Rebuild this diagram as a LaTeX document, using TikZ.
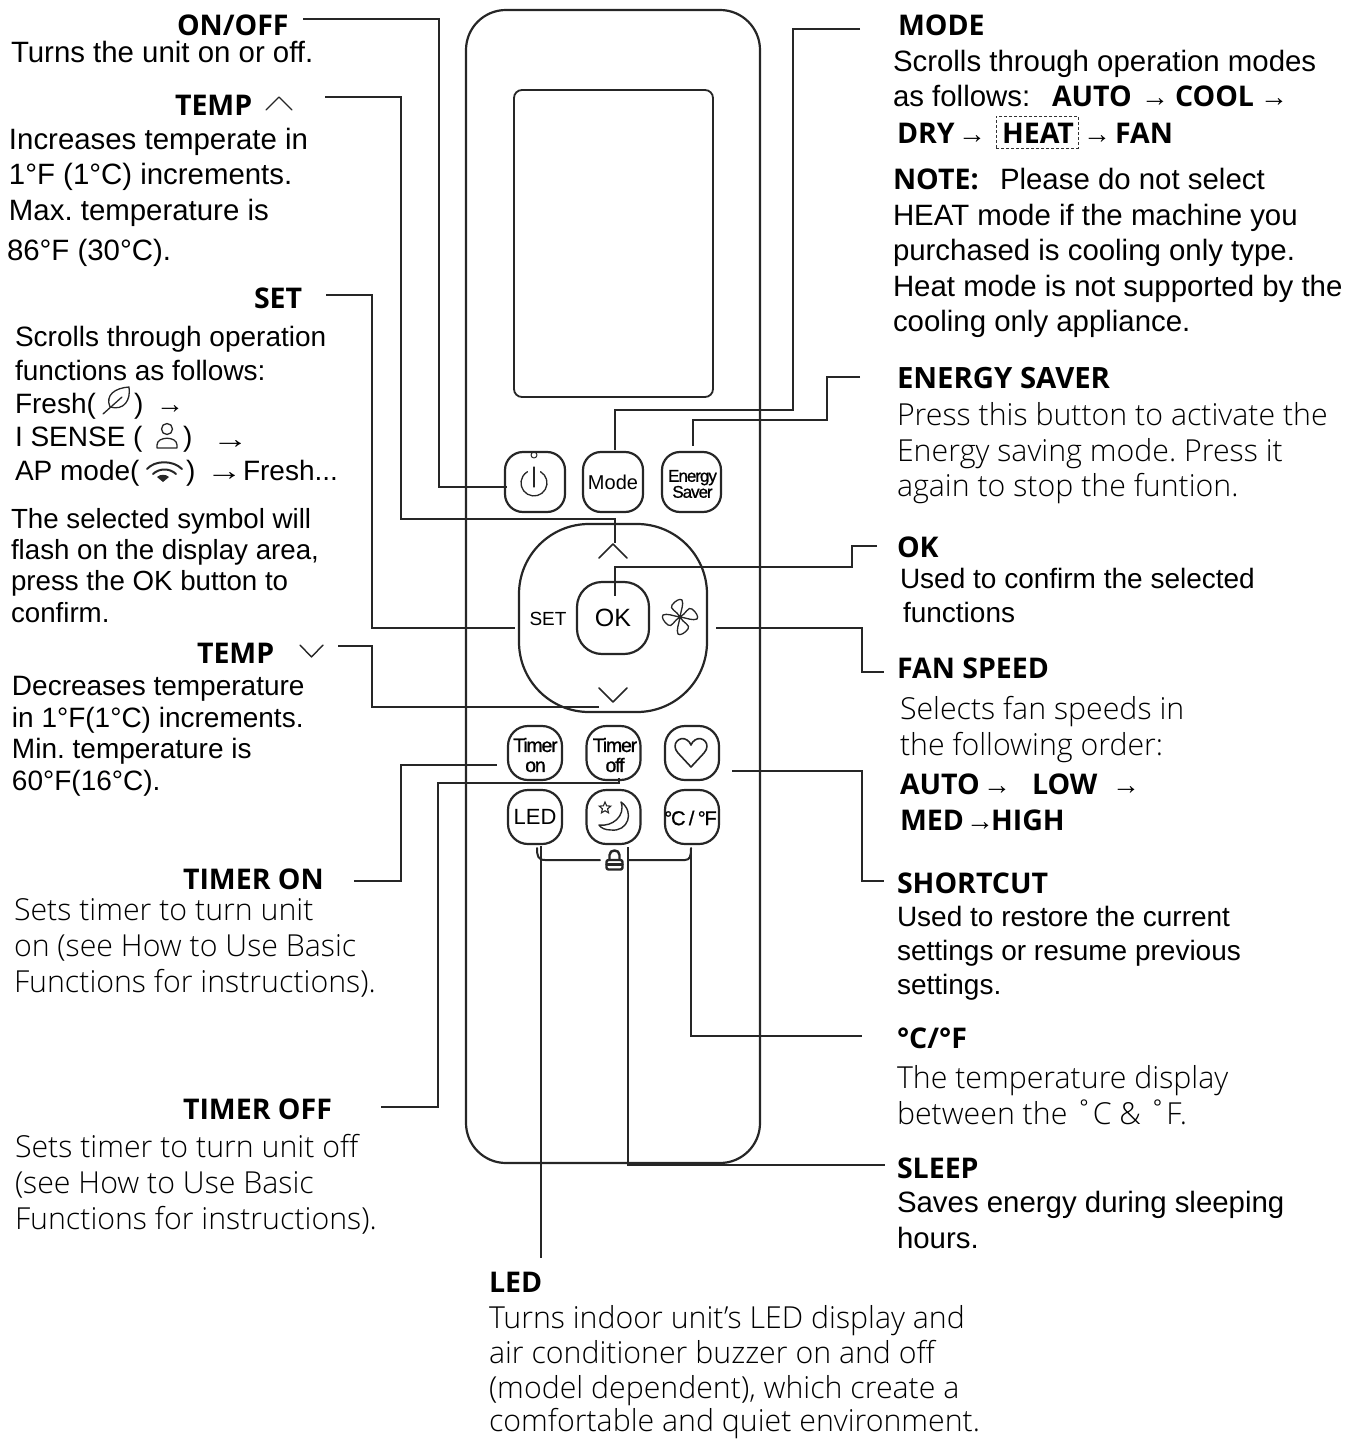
\documentclass[tikz,border=0pt]{standalone}
\usepackage{fontspec}
\usetikzlibrary{shapes.geometric}
\setmainfont{Liberation Sans}
\frenchspacing
\newfontfamily\arf{Liberation Sans}
\newfontfamily\arbt[FakeBold=0.9,LetterSpace=-6]{Liberation Sans}
\newfontfamily\opf{Open Sans}
\newfontfamily\ltf{Open Sans Light}
\newcommand\fA{\arf\fontsize{29.4}{29}\selectfont}
\newcommand\fC{\arf\fontsize{28}{28}\selectfont}
\newcommand\fD{\arf\fontsize{27.7}{28}\selectfont}
\newcommand\fB{\opf\bfseries\fontsize{28.5}{28}\selectfont}
\newcommand\fE{\opf\bfseries\fontsize{29.3}{28}\selectfont}
\newcommand\fL{\ltf\fontsize{30.3}{30}\selectfont}
\newcommand\fR{\arf\fontsize{28}{28}\selectfont}
\newcounter{tn}
\newcommand\lbl[4]{\stepcounter{tn}\node[txt] (t\arabic{tn}) at (#1,#2) {#3#4};}
\tikzset{
  txt/.style={anchor=base west,inner sep=0pt,outer sep=0pt,text=black,yshift=-1pt},
  leader/.style={draw=black!85,line width=1.7pt},
  shell/.style={draw=black!85,line width=2.2pt,inner sep=0pt,outer sep=0pt},
  btn/.style={shell,align=center,font=\arf},
  btxt/.style={inner sep=0pt,align=center},
  icon/.style={draw=black!85,line width=1.6pt,line cap=round,line join=round},
}
\begin{document}
\begin{tikzpicture}[x=1pt,y=-1pt]
\useasboundingbox (0,0) rectangle (1346,1439);
% remote
\node[shell,rounded corners=40pt,minimum width=294pt,minimum height=1153pt] (body) at (613,586.5) {};
\node[shell,line width=1.8pt,rounded corners=8pt,minimum width=199pt,minimum height=307pt] (screen) at (613.5,243.5) {};
\node[btn,rounded corners=18pt,minimum width=60pt,minimum height=60pt] (bpower) at (535,482) {};
\node[btn,rounded corners=18pt,minimum width=60pt,minimum height=60pt,font=\arf\fontsize{20}{20}\selectfont] (bmode) at (613,482) {Mode};
\node[btn,rounded corners=18pt,minimum width=59pt,minimum height=60pt] (benergy) at (691.5,482) {};
\node[btxt,font=\arbt\fontsize{17}{16}\selectfont] (benergyT) at (692.5,484) {Energy\\Saver};
\node[shell,rounded corners=70pt,minimum width=188pt,minimum height=188pt] (dpad) at (613,618) {};
\node[btn,rounded corners=25pt,minimum width=72pt,minimum height=72pt,font=\arf\fontsize{25}{25}\selectfont] (bok) at (613,618) {OK};
\node[inner sep=0pt,font=\arf\fontsize{19}{19}\selectfont] (bset) at (548,618.5) {SET};
\node[btn,rounded corners=20pt,minimum width=54pt,minimum height=54pt] (bton) at (535,753) {};
\node[btxt,font=\arbt\fontsize{19.5}{20}\selectfont] (btonT) at (535.5,755) {Timer\\on};
\node[btn,rounded corners=20pt,minimum width=54pt,minimum height=54pt] (btoff) at (613.5,753) {};
\node[btxt,font=\arbt\fontsize{19.5}{20}\selectfont] (btoffT) at (615,755) {Timer\\off};
\node[btn,rounded corners=20pt,minimum width=54pt,minimum height=54pt] (bheart) at (692,753) {};
\node[btn,rounded corners=20pt,minimum width=54pt,minimum height=54pt,font=\arf\fontsize{22}{22}\selectfont] (bled) at (535,817) {LED};
\node[btn,rounded corners=20pt,minimum width=54pt,minimum height=54pt] (bsleep) at (613.5,817) {};
\node[btn,rounded corners=20pt,minimum width=54pt,minimum height=54pt] (bcf) at (692,817) {};
\node[btxt,font=\arbt\fontsize{20}{20}\selectfont] (bcfT) at (690.5,818) {°C\,/\,°F};
% chevrons
\draw[icon] (599,558) -- (613,544) -- (627,558);
\draw[icon] (599,688) -- (613,702) -- (627,688);
\draw[icon,line width=1.4pt] (266,110) -- (279,97) -- (292,110);
\draw[icon,line width=1.4pt] (300,645) -- (311.5,657) -- (323,645);
% power icon
\draw[icon,line width=1.3pt] (540.5,471.7) arc[start angle=-60,end angle=240,radius=13];
\draw[icon,line width=1.3pt] (534,467) -- (534,487);
\draw[icon,line width=1pt] (534,455) circle[radius=3];
% fan icon
\foreach \a in {0,90,180,270}{
\draw[icon,line width=1.3pt,rotate around={\a:(680,617)}] (680,617) .. controls (677,611) and (669,609) .. (672,605) .. controls (675,601) and (680,598) .. (682,600) .. controls (684,604) and (681,610) .. (680,617);
}
% heart
\draw[icon] (691,767) -- (678,753) .. controls (670,744) and (680,735) .. (687,740) .. controls (689,741) and (690,743) .. (691,745) .. controls (692,743) and (693,741) .. (695,740) .. controls (702,735) and (712,744) .. (704,753) -- cycle;
% moon and star
\draw[icon,line width=1.4pt] (621,802) .. controls (635,812) and (628,832) .. (611,830) .. controls (605,830) and (601,828) .. (599,825) .. controls (612,827) and (626,816) .. (621,802) -- cycle;
\node[star,star points=5,star point ratio=2.2,draw=black!85,line width=1.1pt,inner sep=0pt,minimum size=12pt] (bstar) at (605,808) {};
% lock
\draw[icon,line width=2.4pt,rounded corners=2pt] (606.5,860) rectangle (622.5,869.5);
\draw[icon,line width=2.4pt] (609.5,860) -- (609.5,855) .. controls (609.5,849) and (619.5,849) .. (619.5,855) -- (619.5,860);
\draw[icon,line width=2.4pt] (606.5,864.5) -- (622.5,864.5);
% lock bracket
\draw[icon,line width=2pt] (537,848) .. controls (537,856) and (538,860) .. (545,860) -- (600,860);
\draw[icon,line width=2pt] (629,860) -- (685,860) .. controls (690,860) and (691,856) .. (691,848);
% leaders
\coordinate (cOnoff) at (303,19);   \coordinate (ePower) at (507,487);
\coordinate (cTup) at (325,97);     \coordinate (eUp) at (615,543);
\coordinate (cSet) at (326,295);    \coordinate (eSet) at (515,628);
\coordinate (cTdn) at (338,646);    \coordinate (eDn) at (599,707);
\coordinate (cTon) at (354,881);    \coordinate (eTon) at (497,765);
\coordinate (cToff) at (381,1107);  \coordinate (eToff) at (619,778);
\coordinate (cMode) at (860,29);    \coordinate (eMode) at (615,450);
\coordinate (cEn) at (860,377);     \coordinate (eEn) at (693,446);
\coordinate (cOk) at (877,546);     \coordinate (eOk) at (615,596);
\coordinate (cFan) at (884,672);    \coordinate (eFan) at (716,628);
\coordinate (cSh) at (884,881);     \coordinate (eSh) at (732,771);
\coordinate (cCf) at (862,1036);    \coordinate (eCf) at (691,848);
\coordinate (cSl) at (885,1165);    \coordinate (eSl) at (628,847);
\coordinate (cLed) at (541,1258);   \coordinate (eLed) at (541,846);
\draw[leader] (cOnoff) -- (439,19) -- (439,487) -- (ePower);
\draw[leader] (cTup) -- (401,97) -- (401,519) -- (615,519) -- (eUp);
\draw[leader] (cSet) -- (372,295) -- (372,628) -- (eSet);
\draw[leader] (cTdn) -- (372,646) -- (372,707) -- (eDn);
\draw[leader] (cTon) -- (401,881) -- (401,765) -- (eTon);
\draw[leader] (cToff) -- (438,1107) -- (438,783) -- (619,783) -- (eToff);
\draw[leader] (cMode) -- (793,29) -- (793,410) -- (615,410) -- (eMode);
\draw[leader] (cEn) -- (827,377) -- (827,420) -- (693,420) -- (eEn);
\draw[leader] (cOk) -- (852,546) -- (852,567) -- (615,567) -- (eOk);
\draw[leader] (eFan) -- (862,628) -- (862,672) -- (cFan);
\draw[leader] (eSh) -- (862,771) -- (862,881) -- (cSh);
\draw[leader] (eCf) -- (691,1036) -- (cCf);
\draw[leader] (eSl) -- (628,1165) -- (cSl);
\draw[leader] (eLed) -- (cLed);
% left column
\node[txt,text depth=0pt] (tOnoff) at (177,35) {\fB ON/OFF};
\lbl{11}{62}{\fA}{Turns the unit on or off.}
\lbl{175}{115}{\fB}{TEMP}
\lbl{9}{149}{\fA}{Increases temperate in}
\lbl{9}{184}{\fA}{1°F (1°C) increments.}
\lbl{9}{220}{\fA}{Max. temperature is}
\lbl{7}{259}{\fA}{86°F (30°C).}
\lbl{254}{307}{\fB}{SET}
\lbl{15}{345}{\fC}{Scrolls through operation}
\lbl{15}{379}{\fC}{functions as follows:}
\lbl{15}{412}{\fC}{Fresh(}
\lbl{134}{412}{\fC}{)}
\lbl{156}{412}{\fR}{→}
\lbl{15}{445}{\fC}{I SENSE (}
\lbl{183}{445}{\fC}{)}
\lbl{212}{447}{\fR}{\scalebox{1.3}[1]{→}}
\lbl{15}{479}{\fC}{AP mode(}
\lbl{186}{479}{\fC}{)}
\lbl{206}{479}{\fR}{\scalebox{1.3}[1]{→}}
\lbl{243}{479}{\fC}{Fresh...}
\lbl{11}{527}{\fD}{The selected symbol will}
\lbl{11}{558}{\fD}{flash on the display area,}
\lbl{11}{589}{\fD}{press the OK button to}
\lbl{11}{621}{\fD}{confirm.}
\lbl{197}{662}{\fB}{TEMP}
\lbl{12}{694}{\fC}{Decreases temperature}
\lbl{12}{726}{\fC}{in 1°F(1°C) increments.}
\lbl{12}{757}{\fC}{Min. temperature is}
\lbl{12}{789}{\fC}{60°F(16°C).}
\lbl{183}{888}{\fB}{TIMER ON}
\lbl{14}{919}{\fL}{Sets timer to turn unit}
\lbl{14}{955}{\fL}{on (see How to Use Basic}
\lbl{14}{991}{\fL}{Functions for instructions).}
\lbl{183}{1118}{\fB}{TIMER OFF}
\lbl{15}{1156}{\fL}{Sets timer to turn unit off}
\lbl{15}{1192}{\fL}{(see How to Use Basic}
\lbl{15}{1228}{\fL}{Functions for instructions).}
% inline icons
\draw[icon,line width=1.3pt] (103,414) -- (122,397);
\draw[icon,line width=1.3pt] (110,407) .. controls (105,395) and (115,388) .. (129,387) .. controls (131,400) and (124,411) .. (110,407) -- cycle;
\draw[icon,line width=1.3pt] (167,429) circle[radius=5.5];
\draw[icon,line width=1.3pt] (157,448) -- (157,445) .. controls (157,436) and (177,436) .. (177,445) -- (177,448) -- cycle;
\draw[icon,line width=2pt] (147,469) .. controls (155,460) and (173,460) .. (182,469);
\draw[icon,line width=2pt] (153,474) .. controls (159,468) and (170,468) .. (176,474);
\fill[black!85] (157,477) .. controls (160,474) and (166,474) .. (169,477) -- (163,482) -- cycle;
% right column
\lbl{898}{35}{\fB}{MODE}
\lbl{893}{71}{\fA}{Scrolls through operation modes}
\lbl{893}{106}{\fA}{as follows:}
\lbl{1052}{106}{\fB}{AUTO}
\lbl{1141}{106}{\fR}{→}
\lbl{1175}{106}{\fB}{COOL}
\lbl{1260}{106}{\fR}{→}
\lbl{897}{143}{\fB}{DRY}
\lbl{958}{143}{\fR}{→}
\node[txt,draw=black!80,densely dashed,line width=0.8pt,anchor=center,minimum width=82pt,minimum height=32pt] (heatbox) at (1037,131) {};
\lbl{1002}{143}{\fB}{HEAT}
\lbl{1083}{143}{\fR}{→}
\lbl{1115}{143}{\fB}{FAN}
\lbl{893}{189}{\fB}{NOTE:}
\lbl{1000}{189}{\fA}{Please do not select}
\lbl{893}{225}{\fA}{HEAT mode if the machine you}
\lbl{893}{260}{\fA}{purchased is cooling only type.}
\lbl{893}{295}{\fA}{Heat mode is not supported by the}
\lbl{893}{330}{\fA}{cooling only appliance.}
\lbl{897}{387}{\fE}{ENERGY SAVER}
\lbl{897}{424}{\fL}{Press this button to activate the}
\lbl{897}{460}{\fL}{Energy saving mode. Press it}
\lbl{897}{495}{\fL}{again to stop the funtion.}
\lbl{897}{556}{\fB}{OK}
\lbl{900}{587}{\fC}{Used to confirm the selected}
\lbl{903}{621}{\fC}{functions}
\lbl{897}{677}{\fB}{FAN SPEED}
\lbl{900}{718}{\fL}{Selects fan speeds in}
\lbl{900}{754}{\fL}{the following order:}
\lbl{900}{793}{\fB}{AUTO}
\lbl{983}{793}{\fR}{→}
\lbl{1032}{793}{\fB}{LOW}
\lbl{1112}{793}{\fR}{→}
\lbl{900}{829}{\fB}{MED}
\lbl{966}{829}{\fR}{→}
\lbl{991}{829}{\fB}{HIGH}
\lbl{897}{892}{\fB}{SHORTCUT}
\lbl{897}{925}{\fC}{Used to restore the current}
\lbl{897}{959}{\fC}{settings or resume previous}
\lbl{897}{993}{\fC}{settings.}
\lbl{897}{1047}{\fB}{°C/°F}
\lbl{897}{1087}{\fL}{The temperature display}
\lbl{897}{1123}{\fL}{between the ˚C \& ˚F.}
\lbl{897}{1177}{\fB}{SLEEP}
\lbl{897}{1211}{\fA}{Saves energy during sleeping}
\lbl{897}{1247}{\fA}{hours.}
\lbl{489}{1291}{\fB}{LED}
\lbl{489}{1327}{\fL}{Turns indoor unit’s LED display and}
\lbl{489}{1362}{\fL}{air conditioner buzzer on and off}
\lbl{489}{1397}{\fL}{(model dependent), which create a}
\lbl{489}{1430}{\fL}{comfortable and quiet environment.}
\end{tikzpicture}
\end{document}
